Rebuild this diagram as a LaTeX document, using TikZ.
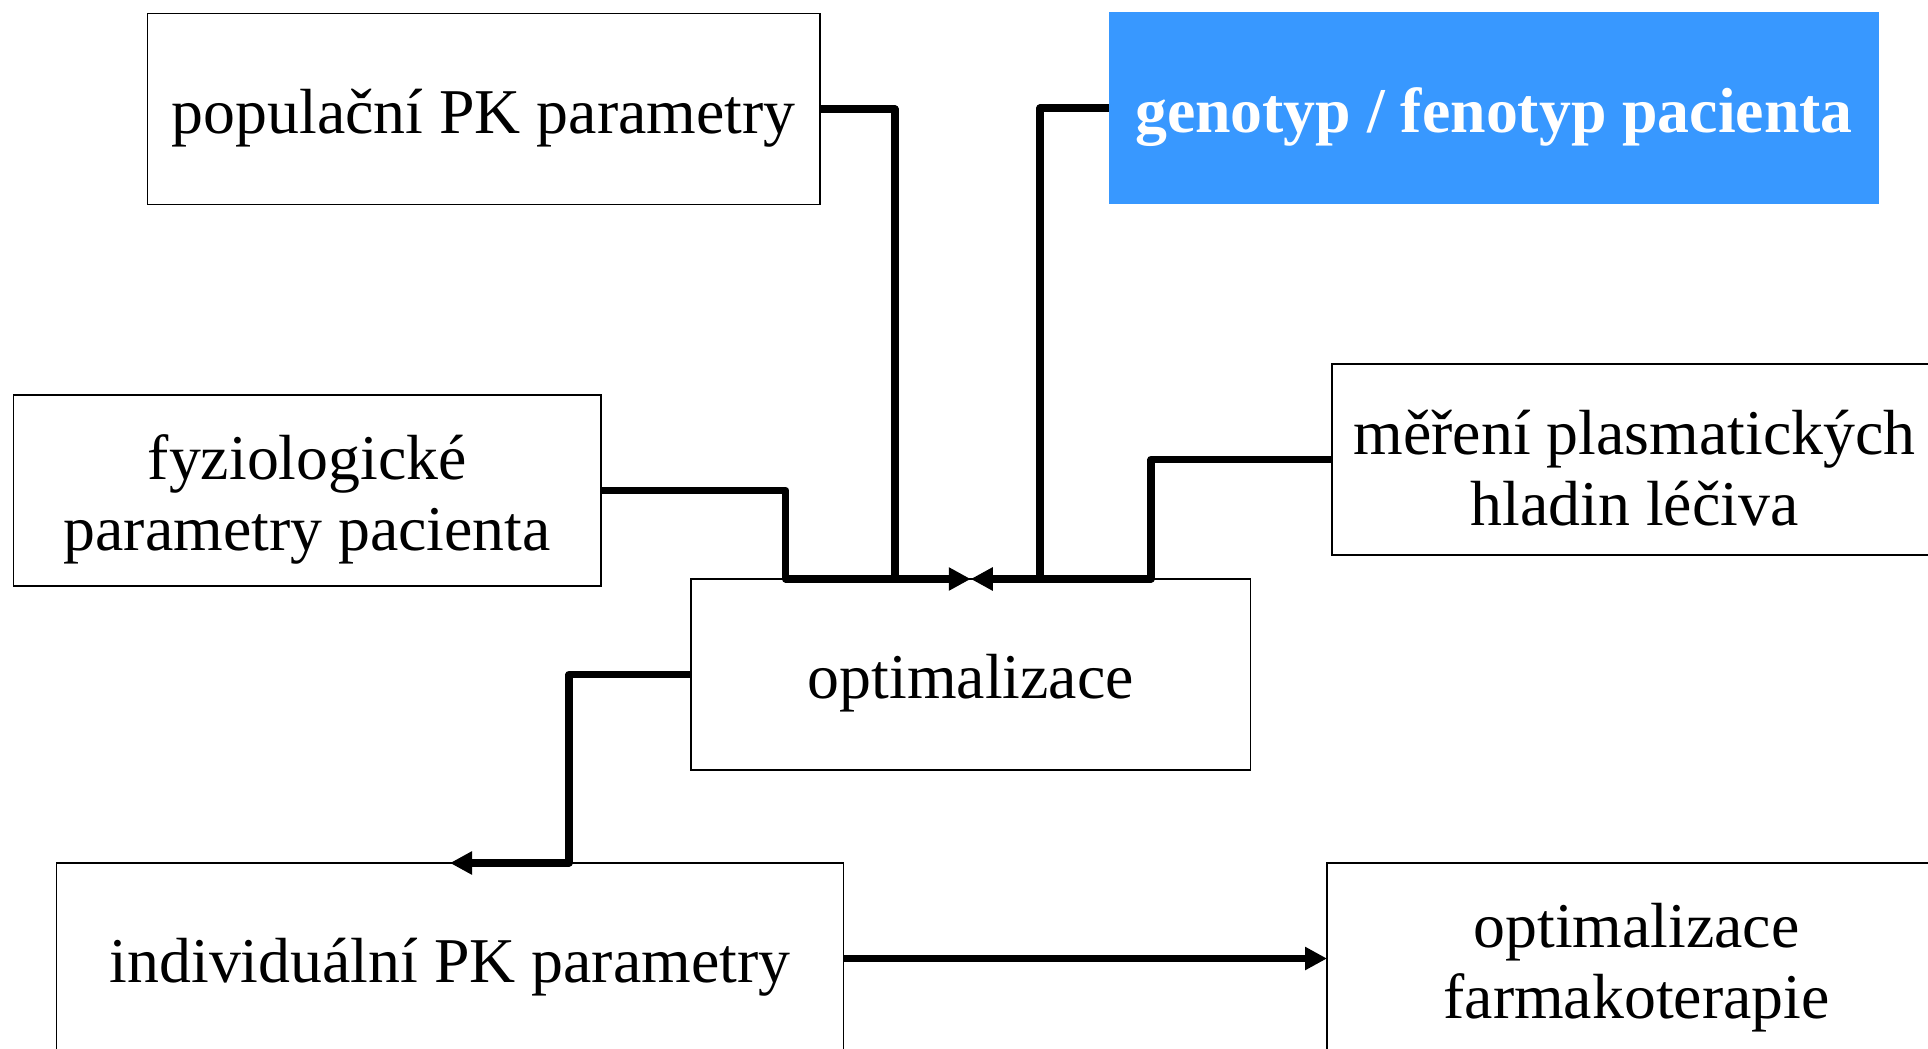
\documentclass[tikz,border=0pt]{standalone}
\usepackage{fontspec}
\setmainfont{Liberation Serif}
\usetikzlibrary{arrows.meta}
\definecolor{blueboxc}{RGB}{56,152,255}
\begin{document}
\begin{tikzpicture}[x=0.5pt,y=-0.5pt,
  box/.style={draw=black, line width=0.9pt, anchor=north west, inner sep=0pt, outer sep=0pt,
    minimum height=95.5pt},
  txt/.style={align=center, inner sep=0pt, font=\fontsize{31.9}{35.6}\selectfont, yshift=-4.5pt},
  conn/.style={line width=3.6pt, line join=round},
  tip/.style={-{Triangle[length=11pt,width=11pt]}}]
\useasboundingbox (0,0) rectangle (1928,1049);
\node[box, minimum width=336.25pt] (pop) at (147.5,13.5) {};
\node[box, draw=none, fill=blueboxc, minimum width=385pt, minimum height=96pt] (gen) at (1109,12) {};
\node[box, minimum width=293.75pt] (fyz) at (13.5,395) {};
\node[box, minimum width=302.5pt] (mer) at (1332,364) {};
\node[box, minimum width=279.75pt] (opt) at (691,579) {};
\node[box, minimum width=393.5pt] (ind) at (56.5,863) {};
\node[box, minimum width=309.5pt] (far) at (1327,863) {};
\node[txt] (popt) at (pop.center) {populační PK parametry};
\node[txt, text=white, font=\fontsize{31.9}{35.6}\selectfont\bfseries] (gent) at (gen.center) {genotyp / fenotyp pacienta};
\node[txt] (fyzt) at (fyz.center) {fyziologické\\parametry pacienta};
\node[txt] (mert) at (mer.center) {měření plasmatických\\hladin léčiva};
\node[txt] (optt) at (opt.center) {optimalizace};
\node[txt] (indt) at (ind.center) {individuální PK parametry};
\node[txt] (fart) at (far.center) {optimalizace\\farmakoterapie};
\coordinate (c1) at (785.7,579);
\coordinate (c2) at (895,579);
\coordinate (c3) at (1151,579);
\coordinate (c4) at (1040,579);
\coordinate (c5) at (569,863);
\draw[conn] (pop.east) -| (c2);
\draw[conn] (gen.west) -| (c4);
\draw[conn,tip] (fyz.east) -| (c1) -- (opt.north);
\draw[conn,tip] (mer.west) -| (c3) -- (opt.north);
\draw[conn,tip] (opt.west) -| (c5) -- (ind.north);
\draw[conn,tip] (ind.east) -- (far.west);
\end{tikzpicture}
\end{document}
